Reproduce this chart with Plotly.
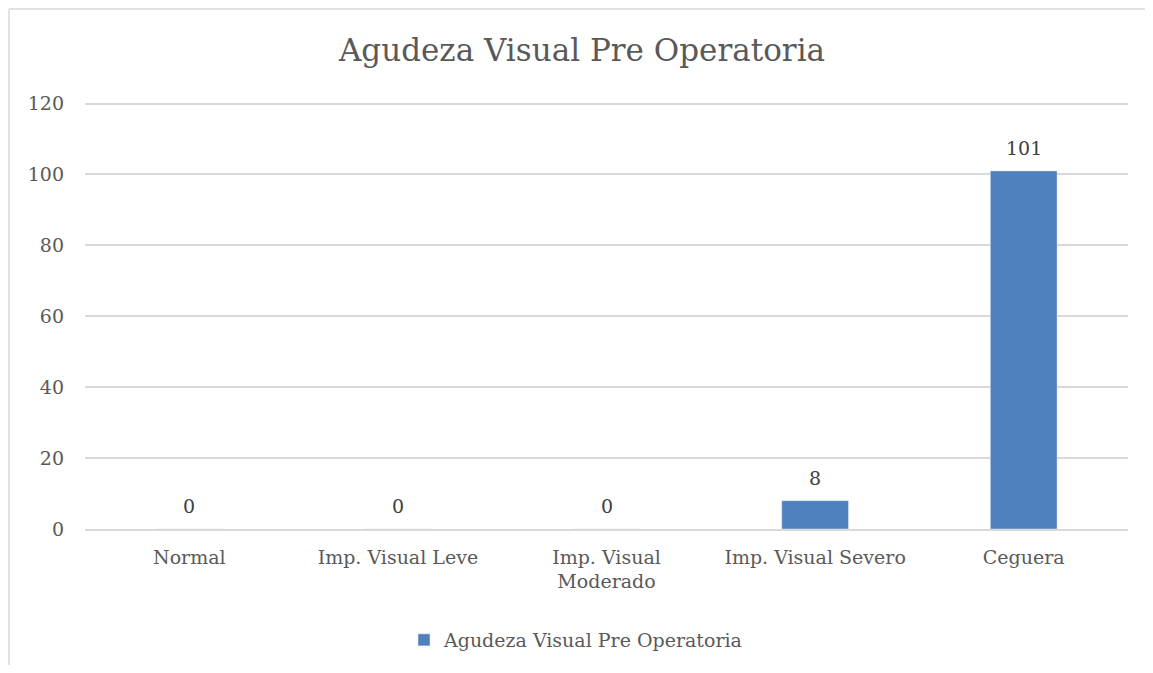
import plotly.graph_objects as go

categories = ["Normal", "Imp. Visual Leve", "Imp. Visual<br>Moderado", "Imp. Visual Severo", "Ceguera"]
values = [0, 0, 0, 8, 101]
series_name = "Agudeza Visual Pre Operatoria"

font_family = "DejaVu Serif, Liberation Serif, serif"
text_color = "#595959"

fig = go.Figure()
fig.add_trace(go.Bar(
    x=categories,
    y=values,
    name=series_name,
    marker_color="#4F81BD",
))

# data labels sit a little above each bar
for cat, val in zip(categories, values):
    fig.add_annotation(x=cat, y=val, text=str(val), showarrow=False,
                       yanchor="bottom", yshift=10,
                       font=dict(size=19, color="#404040"))

W, H = 1137, 657
ml, mr, mt, mb = 77, 17, 92, 136
pw, ph = W - ml - mr, H - mt - mb

# chart frame: only left and top edges are visible in the picture
left = (1 - ml) / pw
top = (ph + mt - 1) / ph
frame = dict(color="#d9d9d9", width=1.5)

fig.update_layout(
    width=W, height=H,
    margin=dict(l=ml, r=mr, t=mt, b=mb),
    paper_bgcolor="white",
    plot_bgcolor="white",
    font=dict(family=font_family, size=19, color=text_color),
    title=dict(text="Agudeza Visual Pre Operatoria", x=(582 - 8) / W, xref="container",
               y=1 - 42 / H, yanchor="middle", font=dict(size=31, color=text_color)),
    bargap=0.68,
    showlegend=True,
    legend=dict(orientation="h", xref="container", yref="container",
                x=568 / W, xanchor="center", y=1 - 632 / H, yanchor="middle",
                font=dict(size=19, color=text_color)),
    xaxis=dict(showgrid=False, showline=True, linecolor="#d9d9d9", linewidth=1.5,
               ticks="", ticklabelstandoff=10),
    yaxis=dict(range=[0, 121], tickvals=[0, 20, 40, 60, 80, 100, 120],
               gridcolor="#d9d9d9", gridwidth=1.5,
               zeroline=False, showline=False, ticks="", ticklabelstandoff=20),
    shapes=[
        dict(type="line", xref="paper", yref="paper", x0=left, x1=left,
             y0=-(mb + 20) / ph, y1=top, line=frame, layer="below"),
        dict(type="line", xref="paper", yref="paper", x0=left, x1=(W + 20 - ml) / pw,
             y0=top, y1=top, line=frame, layer="below"),
    ],
)

fig.write_html("out.html")
